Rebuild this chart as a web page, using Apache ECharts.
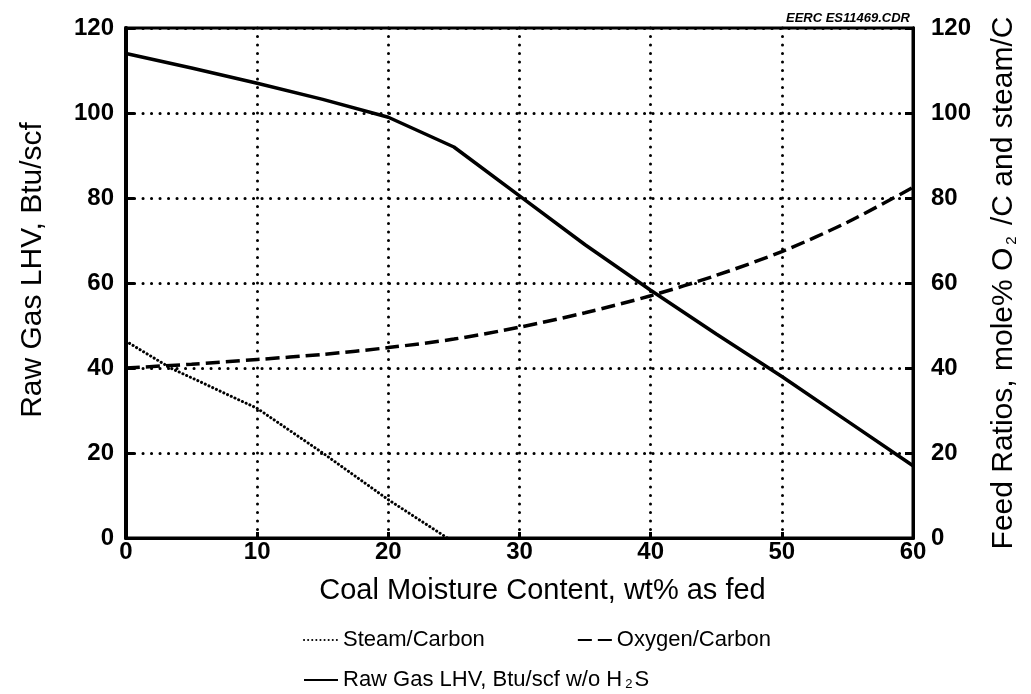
<!DOCTYPE html>
<html>
<head>
<meta charset="utf-8">
<script src="https://cdn.jsdelivr.net/npm/echarts@6/dist/echarts.min.js"></script>
<style>
  html, body { margin: 0; padding: 0; background: #fff; }
  #chart { width: 1031px; height: 694px; }
</style>
</head>
<body>
<div id="chart"></div>
<script>
// x axis: coal moisture, wt% as fed
const moisture = [0, 5, 10, 15, 20, 25, 30, 35, 40, 45, 50, 55, 60];
// raw gas LHV, Btu/scf (left axis)
const gasLhv = [114, 110.6, 107, 103.2, 99, 92, 80.5, 69, 58.3, 48, 38, 27.5, 17];
// oxygen/carbon feed ratio (right axis)
const oxygenCarbon = [40, 40.9, 42, 43.2, 44.8, 46.8, 49.6, 53, 57, 61.8, 67.4, 74.3, 82.5];
// steam/carbon feed ratio (right axis), own x points
const steamMoisture = [0, 3.4, 10, 15, 20, 24.5];
const steamCarbon = [46.3, 40, 30.5, 20, 9, 0];
const yTicks = [0, 20, 40, 60, 80, 100, 120];

const FONT = 'Liberation Sans, Arial, sans-serif';
const lhvName = 'Raw Gas LHV, Btu/scf w/o H2S';

const pairs = (xs, ys) => xs.map((x, i) => [x, ys[i]]);

const chart = echarts.init(document.getElementById('chart'));

const yAxisBase = {
  type: 'value',
  min: 0,
  max: 120,
  interval: 20,
  nameLocation: 'middle',
  axisLine: { show: true, lineStyle: { color: '#000', width: 3 } },
  axisTick: { show: true, inside: true, length: 8, lineStyle: { color: '#000', width: 3 } },
  axisLabel: {
    color: '#000', fontSize: 24, fontWeight: 'bold', fontFamily: FONT, margin: 12,
    formatter: (v) => (yTicks.indexOf(v) >= 0 ? String(v) : '')
  },
  nameTextStyle: { color: '#000', fontSize: 30, fontFamily: FONT }
};

let option = {
  backgroundColor: '#fff',
  animation: false,
  grid: {
    left: 126, right: 118, top: 28, bottom: 156,
    show: true, borderColor: '#000', borderWidth: 3, containLabel: false
  },
  graphic: [{
    type: 'text',
    right: 121,
    top: 12,
    style: {
      text: 'EERC ES11469.CDR',
      font: 'italic bold 13px ' + FONT,
      fill: '#000'
    }
  }],
  xAxis: {
    type: 'value',
    min: 0,
    max: 60,
    interval: 10,
    name: 'Coal Moisture Content, wt% as fed',
    nameLocation: 'middle',
    nameGap: 38,
    nameTextStyle: { color: '#000', fontSize: 29, fontFamily: FONT, padding: [0, 0, 0, 46] },
    axisLine: { show: true, lineStyle: { color: '#000', width: 3 } },
    axisTick: { show: true, inside: true, length: 6, lineStyle: { color: '#000', width: 3 } },
    axisLabel: { color: '#000', fontSize: 24, fontWeight: 'bold', fontFamily: FONT, margin: 2 },
    splitLine: {
      show: true,
      lineStyle: { color: '#000', width: 3, type: [0.1, 8.4], cap: 'round' }
    }
  },
  yAxis: [
    Object.assign({}, yAxisBase, {
      position: 'left',
      name: 'Raw Gas LHV, Btu/scf',
      nameGap: 78,
      nameTextStyle: Object.assign({}, yAxisBase.nameTextStyle, { padding: [0, 0, 0, 26] }),
      axisLine: { show: true, lineStyle: { color: '#000', width: 4 } },
      splitLine: {
        show: true,
        lineStyle: { color: '#000', width: 3, type: [0.1, 8.4], cap: 'round' }
      }
    }),
    Object.assign({}, yAxisBase, {
      position: 'right',
      name: '{a|Feed Ratios, mole% O}{s|2}{a| /C and steam/C}',
      nameGap: 76,
      nameTextStyle: Object.assign({}, yAxisBase.nameTextStyle, {
        rich: {
          a: { fontSize: 30, fontFamily: FONT, color: '#000' },
          s: { fontSize: 15, fontFamily: FONT, color: '#000', verticalAlign: 'bottom', padding: [0, 3, 0, 3] }
        }
      }),
      axisLabel: Object.assign({}, yAxisBase.axisLabel, { margin: 18 }),
      splitLine: { show: false }
    })
  ],
  legend: [{
    data: ['Steam/Carbon', 'Oxygen/Carbon'],
    left: 298,
    top: 624,
    orient: 'horizontal',
    itemWidth: 34,
    itemHeight: 24,
    itemGap: 92,
    itemStyle: { opacity: 0 },
    textStyle: { color: '#000', fontSize: 22, fontFamily: FONT }
  }, {
    data: [lhvName],
    left: 298,
    top: 664,
    itemWidth: 34,
    itemHeight: 24,
    itemStyle: { opacity: 0 },
    formatter: () => '{a|Raw Gas LHV, Btu/scf w/o H}{s|2}{a|S}',
    textStyle: {
      color: '#000', fontSize: 22, fontFamily: FONT,
      rich: {
        a: { fontSize: 22, fontFamily: FONT, color: '#000' },
        s: { fontSize: 13, fontFamily: FONT, color: '#000', verticalAlign: 'bottom', padding: [0, 2, 0, 3] }
      }
    }
  }],
  series: [{
    name: 'Steam/Carbon',
    type: 'line',
    yAxisIndex: 1,
    symbol: 'none',
    itemStyle: { color: '#000' },
    data: pairs(steamMoisture, steamCarbon),
    lineStyle: { color: '#000', width: 3, type: [0.1, 4], cap: 'round' }
  }, {
    name: 'Oxygen/Carbon',
    type: 'line',
    yAxisIndex: 1,
    symbol: 'none',
    smooth: 0.3,
    itemStyle: { color: '#000' },
    data: pairs(moisture, oxygenCarbon),
    lineStyle: { color: '#000', width: 3.5, type: [14, 6] }
  }, {
    name: lhvName,
    type: 'line',
    yAxisIndex: 0,
    symbol: 'none',
    itemStyle: { color: '#000' },
    data: pairs(moisture, gasLhv),
    lineStyle: { color: '#000', width: 3.5, type: 'solid' }
  }]
};

chart.setOption(option);
</script>
</body>
</html>
